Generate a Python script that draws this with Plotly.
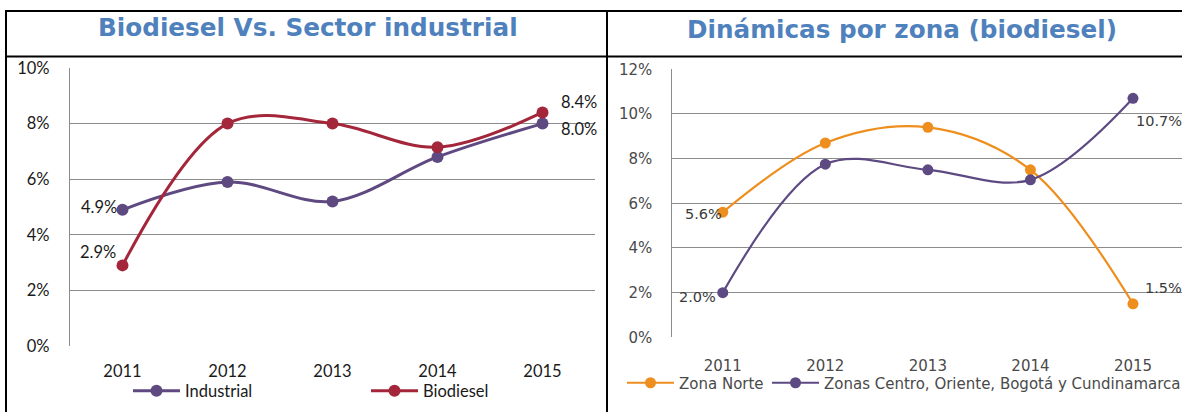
import plotly.graph_objects as go

# ---- data ----
years = ["2011", "2012", "2013", "2014", "2015"]

industrial = [0.049, 0.059, 0.052, 0.068, 0.080]
biodiesel = [0.029, 0.080, 0.080, 0.0715, 0.084]

zona_norte = [0.056, 0.087, 0.094, 0.075, 0.015]
zonas_centro = [0.020, 0.0775, 0.075, 0.0705, 0.107]

# ---- canvas helpers ----
W, H = 1182, 412


def px(x):
    return x / W


def py(y):
    return 1 - y / H


LEFT_FONT = "Lato, Carlito, Calibri, sans-serif"
RIGHT_FONT = "DejaVu Sans, Verdana, sans-serif"

fig = go.Figure()

# left chart: Biodiesel vs. Sector industrial
fig.add_trace(go.Scatter(
    x=years, y=industrial, name="Industrial", mode="lines+markers",
    line=dict(color="#5E4A80", width=3, shape="spline", smoothing=1),
    marker=dict(color="#5E4A80", size=12),
    xaxis="x", yaxis="y", legend="legend",
))
fig.add_trace(go.Scatter(
    x=years, y=biodiesel, name="Biodiesel", mode="lines+markers",
    line=dict(color="#A3263A", width=3, shape="spline", smoothing=1),
    marker=dict(color="#A3263A", size=12),
    xaxis="x", yaxis="y", legend="legend2",
))

# right chart: Dinámicas por zona
fig.add_trace(go.Scatter(
    x=years, y=zona_norte, name="Zona Norte", mode="lines+markers",
    line=dict(color="#EE8E1E", width=2.2, shape="spline", smoothing=1),
    marker=dict(color="#EE8E1E", size=11),
    xaxis="x2", yaxis="y2", legend="legend3",
))
fig.add_trace(go.Scatter(
    x=years, y=zonas_centro, name="Zonas Centro, Oriente, Bogotá y Cundinamarca",
    mode="lines+markers",
    line=dict(color="#5D4A83", width=2.2, shape="spline", smoothing=1),
    marker=dict(color="#5D4A83", size=11),
    xaxis="x2", yaxis="y2", legend="legend4",
))

# ---- value labels (series, index, axis suffix, anchor, xshift, yshift) ----
label_specs = [
    (industrial, 0, "", "right", -4, 3),
    (biodiesel, 0, "", "right", -5, 13),
    (biodiesel, 4, "", "left", 16, 10),
    (industrial, 4, "", "left", 16, -5),
    (zona_norte, 0, "2", "right", 1, -2),
    (zonas_centro, 0, "2", "right", -5, -4),
    (zonas_centro, 4, "2", "left", 1, -23),
    (zona_norte, 4, "2", "left", 10, 16),
]
annotations = []
for series, i, ax, anchor, dx, dy in label_specs:
    left = ax == ""
    annotations.append(dict(
        x=i, y=series[i], xref="x" + ax, yref="y" + ax,
        text=f"{series[i] * 100:.1f}%", showarrow=False,
        xanchor=anchor, yanchor="middle", xshift=dx, yshift=dy,
        font=dict(family=LEFT_FONT if left else RIGHT_FONT,
                  size=16.5 if left else 14.5,
                  color="#1A1A1A" if left else "#3A3A3A"),
    ))

# panel titles
for text, cx, cy in [("Biodiesel Vs. Sector industrial", 308, 28),
                     ("Dinámicas por zona (biodiesel)", 902, 30)]:
    annotations.append(dict(
        x=px(cx), y=py(cy), xref="paper", yref="paper", showarrow=False,
        text=f"<b>{text}</b>", xanchor="center", yanchor="middle",
        font=dict(family="DejaVu Sans, Arial, sans-serif", size=24.7,
                  color="#4F81BD"),
    ))

# frame lines around the two panels
frame = [
    (5, 11, W, 11),
    (6, 10, 6, H),
    (6, 56.5, W, 56.5),
    (607, 10, 607, H),
]
shapes = [dict(type="line", xref="paper", yref="paper",
               x0=px(a), y0=py(b), x1=px(c), y1=py(d),
               line=dict(color="#000000", width=2)) for a, b, c, d in frame]

grid = "#8C8C8C"
tick_font = dict(family=LEFT_FONT, size=16.5, color="#1A1A1A")
tick_font_r = dict(family=RIGHT_FONT, size=15, color="#4A4A4A")

fig.update_layout(
    width=W, height=H, autosize=False, showlegend=True,
    margin=dict(l=0, r=0, t=0, b=0, autoexpand=False),
    paper_bgcolor="white", plot_bgcolor="white",
    annotations=annotations, shapes=shapes,
    xaxis=dict(domain=[px(70), px(595)], type="category", range=[-0.5, 4.5],
               showgrid=False, showline=False, ticks="", tickfont=tick_font,
               ticklabelstandoff=13, anchor="y"),
    yaxis=dict(domain=[py(346), py(68)], range=[0, 0.10], dtick=0.02,
               tickformat=".0%", showgrid=True, gridcolor=grid, gridwidth=1.3,
               showline=True, linecolor=grid, linewidth=1.3, zeroline=False,
               ticks="", tickfont=tick_font, ticklabelstandoff=16, anchor="x"),
    xaxis2=dict(domain=[px(671.5), 1.0], type="category", range=[-0.5, 4.478],
                showgrid=False, showline=False, ticks="", tickfont=tick_font_r,
                ticklabelstandoff=18, anchor="y2"),
    yaxis2=dict(domain=[py(337.3), py(69.3)], range=[0, 0.12], dtick=0.02,
                tickformat=".0%", showgrid=True, gridcolor=grid, gridwidth=1.3,
                showline=True, linecolor=grid, linewidth=1.3, zeroline=False,
                ticks="", tickfont=tick_font_r, ticklabelstandoff=15,
                anchor="x2"),
    legend=dict(x=px(128), y=py(391), xanchor="left", yanchor="middle",
                orientation="h", font=tick_font, itemwidth=47,
                bgcolor="rgba(0,0,0,0)"),
    legend2=dict(x=px(366), y=py(391), xanchor="left", yanchor="middle",
                 orientation="h", font=tick_font, itemwidth=47,
                 bgcolor="rgba(0,0,0,0)"),
    legend3=dict(x=px(622), y=py(383), xanchor="left", yanchor="middle",
                 orientation="h", font=tick_font_r, itemwidth=47,
                 bgcolor="rgba(0,0,0,0)"),
    legend4=dict(x=px(767), y=py(383), xanchor="left", yanchor="middle",
                 orientation="h", font=tick_font_r, itemwidth=47,
                 bgcolor="rgba(0,0,0,0)"),
)

fig.write_html("out.html")
